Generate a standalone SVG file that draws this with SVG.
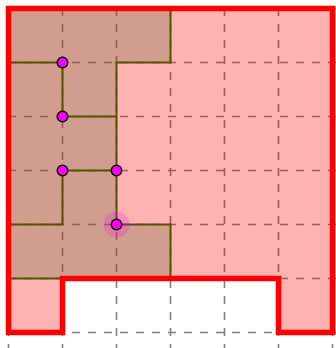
<svg xmlns="http://www.w3.org/2000/svg" width="336" height="348" viewBox="0 0 336 348">
  <style>
    .grid line { stroke: #808080; stroke-width: 1.6; stroke-dasharray: 8 8; stroke-dashoffset: 8; }
    .outfill { fill: #ff0000; fill-opacity: 0.3; stroke: none; }
    .outline { fill: none; stroke: #ff0000; stroke-width: 5.5; stroke-linejoin: miter; }
    .tile { fill: #646e3c; fill-opacity: 0.3; stroke: #555500; stroke-width: 2; stroke-linejoin: miter; }
    .seg { fill: none; stroke: #555500; stroke-width: 2; }
    .pt { fill: #ff00ff; stroke: #000000; stroke-width: 1.5; }
    .halo { fill: #ff00ff; fill-opacity: 0.22; stroke: none; }
  </style>
  <defs>
    <polygon id="shape" points="8.5,8.5 332.5,8.5 332.5,332.5 278.5,332.5 278.5,278.5 62.5,278.5 62.5,332.5 8.5,332.5"/>
  </defs>
  <rect width="336" height="348" fill="#ffffff"/>
  <g id="grid" class="grid">
    <line x1="8.5" y1="0" x2="8.5" y2="348"/>
    <line x1="62.5" y1="0" x2="62.5" y2="348"/>
    <line x1="116.5" y1="0" x2="116.5" y2="348"/>
    <line x1="170.5" y1="0" x2="170.5" y2="348"/>
    <line x1="224.5" y1="0" x2="224.5" y2="348"/>
    <line x1="278.5" y1="0" x2="278.5" y2="348"/>
    <line x1="332.5" y1="0" x2="332.5" y2="348"/>
    <line x1="0" y1="8.5" x2="336" y2="8.5"/>
    <line x1="0" y1="62.5" x2="336" y2="62.5"/>
    <line x1="0" y1="116.5" x2="336" y2="116.5"/>
    <line x1="0" y1="170.5" x2="336" y2="170.5"/>
    <line x1="0" y1="224.5" x2="336" y2="224.5"/>
    <line x1="0" y1="278.5" x2="336" y2="278.5"/>
    <line x1="0" y1="332.5" x2="336" y2="332.5"/>
  </g>
  <g id="region-fill">
    <use href="#shape" class="outfill"/>
  </g>
  <g id="tiles">
    <polygon class="tile" points="8.5,8.5 170.5,8.5 170.5,62.5 116.5,62.5 116.5,224.5 170.5,224.5 170.5,278.5 8.5,278.5"/>
  </g>
  <g id="connectors">
    <polyline class="seg" points="8.5,62.5 62.5,62.5 62.5,116.5 116.5,116.5"/>
    <polyline class="seg" points="116.5,170.5 62.5,170.5 62.5,224.5 8.5,224.5"/>
  </g>
  <g id="region-border">
    <use href="#shape" class="outline"/>
  </g>
  <g id="points">
    <circle class="halo" cx="116.5" cy="224.5" r="13"/>
    <g id="p1"><circle class="pt" cx="62.5" cy="62.5" r="5.2"/></g>
    <g id="p2"><circle class="pt" cx="62.5" cy="116.5" r="5.2"/></g>
    <g id="p3"><circle class="pt" cx="62.5" cy="170.5" r="5.2"/></g>
    <g id="p4"><circle class="pt" cx="116.5" cy="170.5" r="5.2"/></g>
    <g id="p5"><circle class="pt" cx="116.5" cy="224.5" r="5.2"/></g>
  </g>
</svg>
